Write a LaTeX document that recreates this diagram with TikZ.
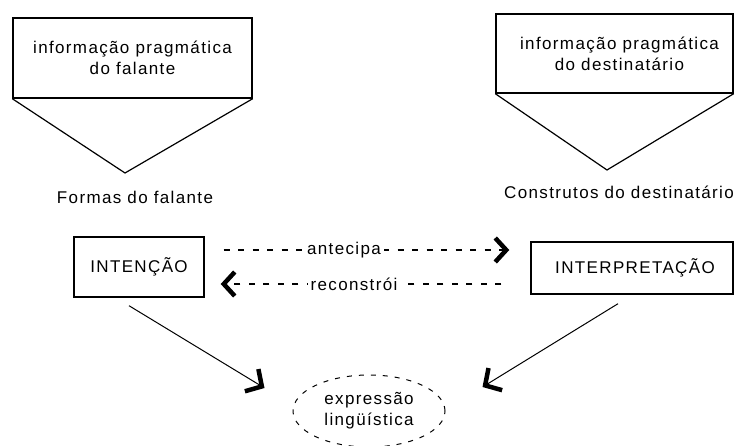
\documentclass[tikz,border=0pt]{standalone}
\usepackage{fontspec}
\setmainfont{Liberation Sans}[LetterSpace=8]
\usetikzlibrary{arrows.meta,shapes.geometric}
\begin{document}
\begin{tikzpicture}[x=1bp,y=-1bp,
  txt/.style={font=\fontsize{17bp}{21bp}\selectfont, align=center, inner sep=0pt},
  infobox/.style={txt, draw, line width=1.4bp, minimum width=#1, inner sep=0pt},
  midbox/.style={txt, draw, line width=1.4bp},
  thinline/.style={line width=1bp},
  dashline/.style={line width=1.1bp, dash pattern=on 6bp off 8.5bp},
  bigtip/.style={-{Straight Barb[length=11bp,width=24bp,line width=4.5bp]}},
  lowtip/.style={-{Straight Barb[length=12bp,width=26bp,line width=4.5bp]}},
  lbl/.style={txt, fill=white, inner xsep=3bp, inner ysep=1bp}
]
\useasboundingbox (0,0) rectangle (740,446);
\fill[white] (0,0) rectangle (740,446);

% top boxes
\node[infobox=239bp, minimum height=80bp] (infoL) at (132.5,58) {informação pragmática\\do falante};
\node[infobox=237bp, minimum height=79bp] (infoR) at (614.5,53.5) {\hspace*{10bp}informação pragmática\\\hspace*{10bp}do destinatário};
\coordinate (apexL) at (125,173);
\coordinate (apexR) at (607,170);
\draw[line width=1.2bp] (infoL.south west) -- (apexL) -- (infoL.south east);
\draw[line width=1.2bp] (infoR.south west) -- (apexR) -- (infoR.south east);
\node[txt] (formas) at (135,197) {Formas do falante};
\node[txt] (constr) at (619,192) {Construtos do destinatário};

% middle boxes
\node[midbox, minimum width=130bp, minimum height=60bp] (intencao) at (139,267) {INTENÇÃO};
\node[midbox, minimum width=202bp, minimum height=52bp] (interp) at (632,268) {\hspace*{6bp}INTERPRETAÇÃO};

% dashed arrows
\draw[dashline, bigtip] ([xshift=19bp]intencao.east |- 0,250) -- ([xshift=-21bp]interp.west |- 0,250);
\draw[dashline, bigtip] ([xshift=-29bp]interp.west |- 0,284) -- ([xshift=16bp]intencao.east |- 0,284);
\node[lbl] (ant) at (344,250) {antecipa};
\node[lbl] (rec) at (354,284) {reconstrói};

% ellipse
\node[txt, ellipse, draw, line width=1bp, dash pattern=on 5bp off 7bp, minimum width=152bp, minimum height=72bp] (expr) at (369,411) {expressão\\lingüística};

% lower arrows
\draw[thinline, lowtip] ([shift={(-10,8)}]intencao.south) -- ([shift={(-28,-23)}]expr.west);
\draw[thinline, lowtip] ([shift={(-14,9)}]interp.south) -- ([shift={(37,-24)}]expr.east);
\end{tikzpicture}
\end{document}
